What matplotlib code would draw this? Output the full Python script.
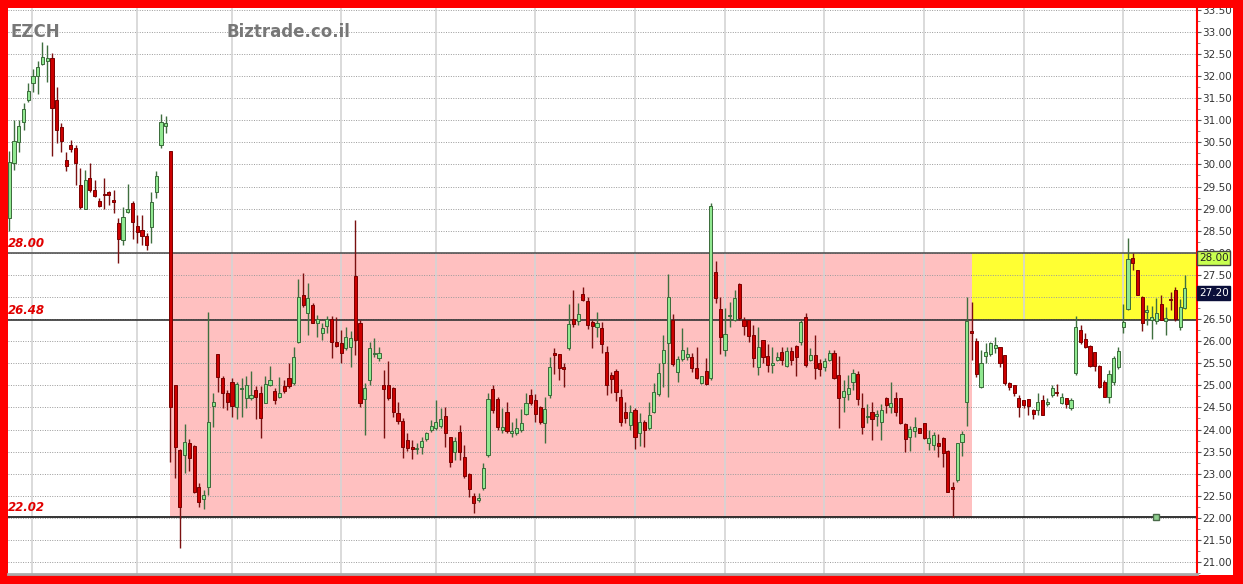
import numpy as np
import matplotlib
matplotlib.use('Agg')
import matplotlib.pyplot as plt
from matplotlib.patches import Rectangle
from matplotlib.ticker import MultipleLocator, FuncFormatter
import matplotlib.transforms as mtransforms

# daily candles (open, high, low, close)
opens = [28.78, 30.03, 30.51, 30.97, 31.46, 31.84, 31.99, 32.28, 32.33, 32.4,
         31.46, 30.84, 30.1, 30.44, 30.37, 29.54, 29.0, 29.69, 29.41, 29.17,
         29.34, 29.37, 29.2, 28.68, 28.28, 28.93, 29.12, 28.61, 28.52, 28.38,
         28.59, 29.38, 30.44, 30.86, 30.31, 25.0, 23.54, 23.42, 23.69, 23.63,
         22.69, 22.42, 22.69, 24.54, 25.71, 25.17, 24.83, 25.08, 24.52, 24.91,
         24.71, 24.71, 24.9, 24.82, 24.61, 25.01, 24.88, 24.74, 24.99, 25.16,
         25.05, 25.99, 27.05, 26.63, 26.82, 26.41, 26.18, 26.34, 26.51, 25.99,
         25.95, 25.84, 25.86, 27.48, 26.42, 24.68, 25.12, 25.71, 25.61, 25.01,
         25.01, 24.93, 24.38, 24.2, 23.76, 23.61, 23.55, 23.61, 23.78, 24.0,
         24.03, 24.07, 24.31, 23.82, 23.5, 23.95, 23.37, 22.99, 22.49, 22.4,
         22.67, 23.42, 24.91, 24.68, 24.0, 24.4, 23.93, 23.93, 23.99, 24.35,
         24.78, 24.67, 24.52, 24.14, 24.78, 25.73, 25.71, 25.4, 25.84, 26.51,
         26.46, 27.07, 26.91, 26.44, 26.33, 26.29, 25.76, 25.23, 25.33, 24.73,
         24.4, 24.1, 24.44, 23.93, 24.18, 24.03, 24.4, 24.8, 25.51, 25.95,
         26.48, 25.31, 25.59, 25.63, 25.63, 25.39, 25.05, 25.33, 25.16, 27.57,
         26.72, 25.8, 26.56, 26.48, 27.29, 26.48, 26.48, 26.14, 25.41, 26.03,
         25.67, 25.46, 25.57, 25.76, 25.44, 25.78, 25.89, 25.97, 26.55, 25.57,
         25.69, 25.5, 25.41, 25.57, 25.74, 25.23, 24.73, 24.8, 25.08, 25.26,
         24.48, 24.28, 24.4, 24.31, 24.18, 24.71, 24.5, 24.71, 24.71, 24.13,
         23.84, 23.97, 24.03, 24.14, 23.69, 23.65, 23.69, 23.8, 23.52, 22.69,
         22.86, 23.72, 24.63, 26.22, 26.01, 24.96, 25.67, 25.71, 25.84, 25.86,
         25.69, 25.05, 25.01, 24.71, 24.67, 24.69, 24.44, 24.44, 24.67, 24.58,
         24.78, 24.86, 24.61, 24.71, 24.48, 25.27, 26.25, 26.04, 25.89, 25.76,
         25.44, 25.08, 24.73, 25.08, 25.41, 26.31, 26.72, 27.88, 27.61, 27.01,
         26.67, 26.48, 26.46, 26.84, 26.46, 26.93, 27.16, 26.31, 26.74]
closes = [30.06, 30.53, 30.86, 31.26, 31.66, 31.99, 32.2, 32.43, 32.4, 31.27,
          30.78, 30.52, 29.97, 30.34, 30.03, 29.04, 29.65, 29.42, 29.29, 29.07,
          29.3, 29.3, 29.14, 28.31, 28.8, 29.0, 28.7, 28.48, 28.38, 28.18,
          29.14, 29.74, 30.97, 30.93, 24.52, 23.61, 22.25, 23.71, 23.35, 22.59,
          22.37, 22.52, 24.18, 24.62, 25.18, 24.83, 24.63, 24.54, 25.04, 24.93,
          25.01, 24.77, 24.73, 24.25, 25.03, 25.11, 24.67, 24.82, 24.88, 24.99,
          25.64, 27.01, 26.82, 26.97, 26.42, 26.5, 26.29, 26.51, 25.99, 25.89,
          25.74, 26.1, 26.07, 26.03, 24.59, 24.93, 25.84, 25.74, 25.74, 24.91,
          24.71, 24.4, 24.2, 23.61, 23.58, 23.57, 23.57, 23.75, 23.93, 24.08,
          24.18, 24.23, 23.93, 23.27, 23.75, 23.5, 22.95, 22.65, 22.34, 22.46,
          23.12, 24.68, 24.44, 24.05, 24.06, 23.97, 23.95, 24.03, 24.14, 24.61,
          24.59, 24.35, 24.16, 24.46, 25.41, 25.69, 25.39, 25.38, 26.39, 26.38,
          26.61, 26.93, 26.37, 26.34, 26.41, 25.94, 25.01, 25.14, 24.86, 24.18,
          24.25, 24.4, 23.84, 24.18, 23.99, 24.33, 24.86, 25.27, 25.81, 26.99,
          25.48, 25.59, 25.8, 25.71, 25.39, 25.16, 25.2, 25.03, 29.05, 26.97,
          26.1, 26.16, 26.59, 26.97, 26.52, 26.34, 26.12, 25.61, 25.87, 25.63,
          25.46, 25.5, 25.65, 25.57, 25.78, 25.57, 25.65, 26.44, 25.46, 25.69,
          25.39, 25.36, 25.54, 25.74, 25.16, 24.71, 24.88, 24.95, 25.29, 24.68,
          24.06, 24.31, 24.23, 24.35, 24.44, 24.56, 24.61, 24.4, 24.14, 23.78,
          24.01, 24.05, 23.93, 23.8, 23.8, 23.88, 23.63, 23.46, 22.59, 22.65,
          23.69, 23.9, 26.46, 26.18, 25.26, 25.5, 25.76, 25.95, 25.91, 25.51,
          25.06, 24.97, 24.82, 24.52, 24.56, 24.53, 24.35, 24.63, 24.33, 24.63,
          24.93, 24.82, 24.74, 24.58, 24.67, 26.31, 25.99, 25.87, 25.44, 25.44,
          24.97, 24.74, 25.26, 25.61, 25.78, 26.44, 27.85, 27.76, 27.05, 26.42,
          26.69, 26.54, 26.64, 26.48, 26.52, 26.92, 26.5, 26.78, 27.2]
highs = [30.3, 31.0, 31.0, 31.4, 31.85, 32.15, 32.33, 32.78, 32.7, 32.53,
         31.75, 30.93, 30.29, 30.55, 30.44, 29.91, 29.88, 30.03, 29.65, 29.24,
         29.69, 29.39, 29.42, 28.78, 29.04, 29.56, 29.18, 28.86, 28.86, 28.44,
         29.38, 29.84, 31.14, 31.1, 30.31, 25.0, 23.57, 24.13, 23.78, 23.65,
         22.78, 22.63, 26.67, 24.83, 25.71, 25.2, 24.89, 25.16, 25.08, 25.16,
         25.2, 25.32, 24.98, 24.98, 25.2, 25.44, 24.93, 25.18, 25.12, 25.5,
         25.87, 27.4, 27.54, 27.31, 26.87, 26.59, 26.41, 26.57, 26.57, 26.55,
         26.25, 26.33, 26.24, 28.74, 26.48, 25.05, 25.97, 26.06, 25.87, 25.35,
         25.54, 24.97, 24.63, 24.25, 23.93, 23.76, 23.69, 23.82, 23.95, 24.22,
         24.67, 24.48, 24.52, 23.84, 23.84, 24.1, 23.65, 23.02, 22.57, 22.56,
         23.25, 24.83, 25.01, 24.74, 24.48, 24.63, 24.16, 24.25, 24.46, 24.82,
         24.91, 24.8, 24.53, 24.74, 25.65, 25.84, 25.71, 25.5, 26.84, 27.16,
         26.86, 27.23, 26.99, 26.48, 26.67, 26.44, 25.89, 25.31, 25.36, 24.91,
         24.63, 24.56, 24.48, 24.38, 24.22, 24.63, 25.05, 25.5, 26.13, 27.52,
         26.61, 25.67, 26.29, 25.87, 25.74, 25.86, 25.21, 25.61, 29.12, 27.82,
         26.99, 26.74, 26.89, 27.16, 27.31, 26.55, 26.48, 26.37, 26.33, 26.03,
         25.94, 25.87, 25.76, 25.87, 25.87, 25.87, 25.91, 26.48, 26.63, 25.84,
         26.14, 25.59, 25.61, 25.8, 25.8, 25.67, 25.12, 25.23, 25.36, 25.33,
         24.82, 24.58, 24.63, 24.44, 24.58, 24.74, 25.08, 24.86, 24.71, 24.14,
         24.07, 24.29, 24.03, 24.14, 23.99, 23.95, 23.9, 23.84, 23.54, 22.82,
         23.7, 23.97, 26.99, 26.89, 26.06, 25.8, 25.95, 25.99, 26.1, 25.87,
         25.69, 25.08, 25.01, 24.78, 24.67, 24.69, 24.46, 24.82, 24.78, 24.71,
         25.01, 25.03, 24.83, 24.71, 24.71, 26.57, 26.37, 26.18, 25.91, 25.76,
         25.46, 25.12, 25.35, 25.67, 25.87, 26.84, 28.33, 28.0, 27.61, 27.03,
         26.82, 26.8, 26.97, 27.05, 26.78, 27.12, 27.22, 26.95, 27.5]
lows = [28.5, 29.88, 30.27, 30.78, 31.42, 31.65, 31.6, 32.25, 31.87, 30.18,
        30.48, 30.29, 29.84, 30.29, 29.54, 29.0, 28.98, 29.38, 29.27, 29.04,
        29.0, 29.08, 28.9, 27.76, 28.18, 28.91, 28.31, 28.22, 28.18, 28.06,
        28.23, 29.23, 30.37, 30.71, 23.27, 22.9, 21.31, 23.01, 23.05, 22.56,
        22.24, 22.2, 22.52, 24.06, 24.86, 24.49, 24.44, 24.29, 24.23, 24.29,
        24.48, 24.67, 24.23, 23.8, 24.59, 24.99, 24.58, 24.71, 24.82, 24.93,
        25.01, 25.95, 26.78, 26.14, 26.41, 26.1, 26.03, 26.18, 25.61, 25.87,
        25.5, 25.8, 25.42, 25.69, 24.52, 23.87, 25.01, 25.65, 25.54, 23.8,
        24.67, 24.29, 24.13, 23.35, 23.52, 23.33, 23.45, 23.45, 23.75, 23.95,
        23.99, 24.03, 23.6, 23.16, 23.31, 23.31, 22.9, 22.48, 22.1, 22.37,
        22.63, 23.38, 24.37, 23.99, 23.91, 23.91, 23.82, 23.88, 23.95, 24.33,
        24.56, 24.16, 24.13, 23.69, 24.71, 25.26, 25.12, 24.97, 25.8, 26.33,
        26.37, 26.9, 26.27, 25.84, 26.1, 25.73, 24.78, 24.82, 24.65, 24.08,
        24.14, 24.0, 23.55, 23.63, 23.61, 23.99, 24.38, 24.76, 24.97, 24.74,
        25.44, 25.08, 25.56, 25.57, 25.31, 25.14, 25.03, 25.01, 25.11, 26.86,
        25.72, 25.67, 26.33, 26.46, 26.48, 26.14, 25.99, 25.42, 25.23, 25.5,
        25.31, 25.27, 25.56, 25.46, 25.41, 25.46, 25.2, 25.91, 25.41, 25.54,
        25.14, 25.2, 25.33, 25.54, 25.14, 24.03, 24.4, 24.67, 24.9, 24.56,
        23.9, 24.14, 23.76, 24.07, 23.76, 24.37, 24.37, 24.31, 24.13, 23.5,
        23.52, 23.84, 23.91, 23.78, 23.54, 23.54, 23.37, 23.16, 22.59, 22.03,
        22.82, 23.39, 24.07, 25.57, 25.18, 24.94, 25.5, 25.67, 25.74, 25.42,
        25.01, 24.9, 24.76, 24.29, 24.48, 24.33, 24.23, 24.33, 24.33, 24.53,
        24.74, 24.76, 24.58, 24.48, 24.44, 25.23, 25.93, 25.84, 25.42, 25.33,
        24.93, 24.74, 24.59, 25.01, 25.36, 26.18, 26.71, 27.61, 27.05, 26.22,
        26.37, 26.04, 26.39, 26.48, 26.14, 26.71, 26.46, 26.25, 26.72]

# month separators (in bar positions)
month_breaks = [4.85, 27.0, 47.0, 69.9, 90.0, 110.9, 132.1, 150.9, 171.9, 192.9, 214.1, 235.0]

# support / resistance levels and zones
level_top = 28.00
level_mid = 26.48
level_low = 22.02
pink_start, pink_end = 34, 203
yellow_start = 203
last_price = 27.20
alert_bar, alert_price = 242, 22.02

W, H = 1243, 584
fig = plt.figure(figsize=(W / 100, H / 100), dpi=100, facecolor='#ff0000')
# white inner panel
fig.patches.append(Rectangle((8 / W, 9 / H), 1225 / W, 567 / H, transform=fig.transFigure,
                             facecolor='white', edgecolor='none', zorder=-1))
ax = fig.add_axes([8 / W, 10 / H, 1189 / W, 566 / H])
ax.set_facecolor('white')

x = np.arange(len(opens))
o = np.array(opens); c = np.array(closes); hi = np.array(highs); lo = np.array(lows)
up = c >= o

ax.set_xlim(-0.27, 250.57)
ax.set_ylim(20.73, 33.54)

# zones
ax.add_patch(Rectangle((pink_start, level_low), pink_end - pink_start, level_top - level_low,
                       facecolor='#ffc0c0', edgecolor='none', zorder=0.3))
ax.add_patch(Rectangle((yellow_start, level_mid), 260 - yellow_start, level_top - level_mid,
                       facecolor='#ffff33', edgecolor='none', zorder=0.3))

# grid
for p in np.arange(21.0, 33.51, 0.5):
    ax.axhline(p, color='#9a9a9a', lw=0.7, ls=(0, (1, 1.5)), zorder=0.6)
for m in month_breaks:
    ax.axvline(m, color='#d4d4d4', lw=1.2, zorder=0.6)

# levels
ax.axhline(level_top, color='#555555', lw=1.2, zorder=1)
ax.axhline(level_mid, color='#333333', lw=1.2, zorder=1)
ax.axhline(level_low, color='#111111', lw=1.2, zorder=1)

# candles
wick_col = np.where(up, '#3f6f3f', '#7a1010')
ax.vlines(x, lo, hi, colors=wick_col, lw=1, zorder=2)
body = np.maximum(np.abs(c - o), 0.03)
bottom = np.minimum(o, c)
ax.bar(x[up], body[up], 0.66, bottom[up], color='#90e890', edgecolor='#3a6a3a', lw=0.7, zorder=3)
ax.bar(x[~up], body[~up], 0.66, bottom[~up], color='#cc0000', edgecolor='#7a0000', lw=0.7, zorder=3)

ax.plot([alert_bar], [alert_price], marker='s', ms=5, mfc='#8fcf8f', mec='#4a6a4a', mew=1, zorder=4)

# level labels
tr = mtransforms.blended_transform_factory(ax.transAxes, ax.transData)
for lv in [level_top, level_mid, level_low]:
    ax.text(0.0, lv + 0.07, '%.2f' % lv, transform=tr, color='#e00000', fontsize=8.5,
            fontweight='bold', style='italic', va='bottom', ha='left', zorder=5)


# right axis; the label under the last-price box is hidden, as on the original
def price_fmt(v, pos):
    if abs(v - 27.0) < 1e-6:
        return ''
    return '%.2f' % v


ax.yaxis.tick_right()
ax.yaxis.set_major_locator(MultipleLocator(0.5))
ax.yaxis.set_minor_locator(MultipleLocator(0.25))
ax.yaxis.set_major_formatter(FuncFormatter(price_fmt))
ax.tick_params(axis='y', which='major', length=3, width=0.8, color='#555555', pad=1,
               labelsize=7.5, labelcolor='#333333')
ax.tick_params(axis='y', which='minor', length=2, width=0.6, color='#777777')
ax.set_xticks([])
for s in ['top', 'left']:
    ax.spines[s].set_visible(False)
ax.spines['right'].set_color('#ff0000')
ax.spines['right'].set_linewidth(1.5)
ax.spines['bottom'].set_color('#aaaaaa')
ax.spines['bottom'].set_linewidth(2)

# price boxes on the axis
ax.text(1.0015, level_top, '%.2f' % level_top, transform=tr, va='top', ha='left', fontsize=7.5,
        color='#222222', zorder=6, clip_on=False,
        bbox=dict(boxstyle='square,pad=0.18', fc='#c8ff50', ec='#444444', lw=1))
ax.text(1.0015, last_price, '%.2f' % last_price, transform=tr, va='top', ha='left', fontsize=7.5,
        color='white', zorder=6, clip_on=False,
        bbox=dict(boxstyle='square,pad=0.18', fc='#0b0f3a', ec='#0b0f3a', lw=1))

# titles
fig.text(10 / W, 1 - 32 / H, 'EZCH', fontsize=12, fontweight='bold', color='#777777', va='center')
fig.text(226 / W, 1 - 32 / H, 'Biztrade.co.il', fontsize=12, fontweight='bold', color='#777777', va='center')

# red frame over everything at the top edge (clips the top tick label)
fig.patches.append(Rectangle((0, 1 - 8 / H), 1, 8 / H, transform=fig.transFigure,
                             facecolor='#ff0000', edgecolor='none', zorder=10))

fig.savefig('out.png', dpi=100, facecolor=fig.get_facecolor())
